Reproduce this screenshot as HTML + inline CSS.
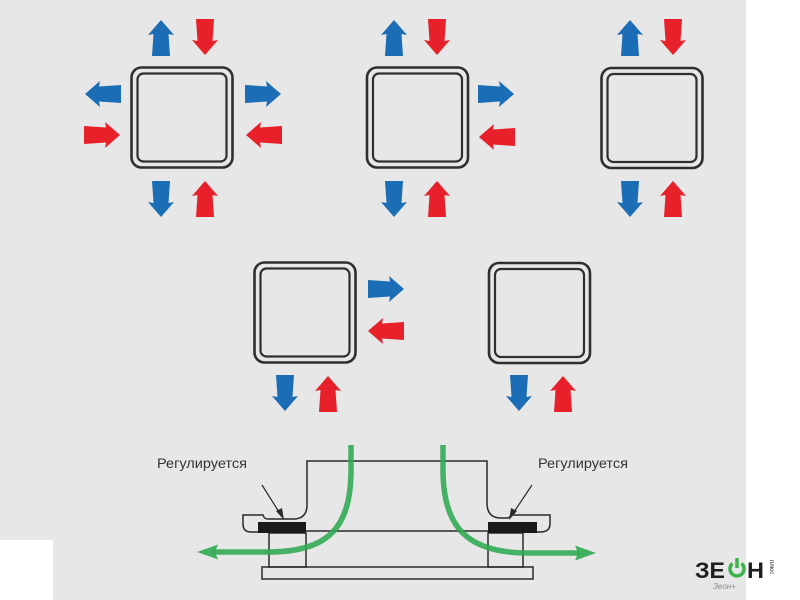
<!DOCTYPE html>
<html><head><meta charset="utf-8">
<style>
html,body{margin:0;padding:0;background:#fff;}
svg{display:block;}
</style></head>
<body>
<svg width="800" height="600" viewBox="0 0 800 600" xmlns="http://www.w3.org/2000/svg">
<defs>
  <path id="arr" d="M0,-9 L22,-7.5 L21,-13 L36,0 L21,13 L22,7.5 L0,9 Z"/>
  <g id="box">
    <rect x="0" y="0" width="101" height="100" rx="10" fill="none" stroke="#2f2f2f" stroke-width="2.6"/>
    <rect x="6" y="6" width="89" height="88" rx="6" fill="none" stroke="#2f2f2f" stroke-width="2.2"/>
  </g>
</defs>
<rect x="0" y="0" width="746" height="600" fill="#e7e7e7"/>
<rect x="0" y="540" width="53" height="60" fill="#fff"/>
<rect x="746" y="0" width="54" height="600" fill="#fff"/>

<!-- boxes -->
<use href="#box" x="131.5" y="67.5"/>
<use href="#box" x="367" y="67.5"/>
<use href="#box" x="601.5" y="68"/>
<use href="#box" x="254.5" y="262.5"/>
<use href="#box" x="489" y="263"/>

<g fill="#1b6db5">
  <use href="#arr" transform="translate(161,56) rotate(-90)"/>
  <use href="#arr" transform="translate(121,94) rotate(180)"/>
  <use href="#arr" transform="translate(245,94)"/>
  <use href="#arr" transform="translate(161,181) rotate(90)"/>
  <use href="#arr" transform="translate(394,56) rotate(-90)"/>
  <use href="#arr" transform="translate(478,94)"/>
  <use href="#arr" transform="translate(394,181) rotate(90)"/>
  <use href="#arr" transform="translate(630,56) rotate(-90)"/>
  <use href="#arr" transform="translate(630,181) rotate(90)"/>
  <use href="#arr" transform="translate(368,289)"/>
  <use href="#arr" transform="translate(285,375) rotate(90)"/>
  <use href="#arr" transform="translate(519,375) rotate(90)"/>
</g>
<g fill="#e7202a">
  <use href="#arr" transform="translate(205,19) rotate(90)"/>
  <use href="#arr" transform="translate(84,135)"/>
  <use href="#arr" transform="translate(282,135) rotate(180)"/>
  <use href="#arr" transform="translate(205,217) rotate(-90)"/>
  <use href="#arr" transform="translate(437,19) rotate(90)"/>
  <use href="#arr" transform="translate(515,137) rotate(180)"/>
  <use href="#arr" transform="translate(437,217) rotate(-90)"/>
  <use href="#arr" transform="translate(673,19) rotate(90)"/>
  <use href="#arr" transform="translate(673,217) rotate(-90)"/>
  <use href="#arr" transform="translate(404,331) rotate(180)"/>
  <use href="#arr" transform="translate(328,412) rotate(-90)"/>
  <use href="#arr" transform="translate(563,412) rotate(-90)"/>
</g>

<!-- bottom diagram -->
<g fill="none" stroke="#2a2a2a" stroke-width="1.5">
  <path d="M258,532 H251 Q243,532 243,524 V515 H263 Q264,519 268,519 H293 Q307,519 307,505 V461 H487 V503 Q487,518 501,518 H507 Q510,518 511,515 H550 V524 Q550,532 540,532 H537"/>
  <line x1="306" y1="531" x2="488" y2="531"/>
  <rect x="269" y="533" width="37" height="34"/>
  <rect x="488" y="533" width="35" height="34"/>
  <rect x="262" y="567" width="271" height="12"/>
</g>
<rect x="258" y="522" width="48" height="11" fill="#1a1a1a"/>
<rect x="488" y="522" width="49" height="11" fill="#1a1a1a"/>

<g stroke="#2a2a2a" stroke-width="1.2" fill="#2a2a2a">
  <line x1="262" y1="485" x2="279" y2="512"/>
  <polygon points="284,520 276,511 282,508" stroke="none"/>
  <line x1="532" y1="485" x2="514" y2="512"/>
  <polygon points="509,520 511,508 517,511" stroke="none"/>
</g>

<g fill="none" stroke="#2eaa52" stroke-width="5.5" stroke-opacity="0.88">
  <path d="M351,445 L351,470 C351,528 328,552 268,552 L214,552"/>
  <path d="M443,445 L443,470 C443,528 468,553 528,553 L579,553"/>
</g>
<g fill="#2eaa52" fill-opacity="0.9">
  <polygon points="197,552 218,544.5 215,552 218,559.5"/>
  <polygon points="596,553 575,545.5 578,553 575,560.5"/>
</g>

<g font-family="Liberation Sans, sans-serif" font-size="14" fill="#333">
  <text x="157" y="468" textLength="90" lengthAdjust="spacingAndGlyphs">Регулируется</text>
  <text x="538" y="468" textLength="90" lengthAdjust="spacingAndGlyphs">Регулируется</text>
</g>

<!-- logo -->
<g font-family="Liberation Sans, sans-serif" font-weight="bold" fill="#1e1e1e">
  <text x="695" y="578" font-size="22" textLength="30" lengthAdjust="spacingAndGlyphs">ЗЕ</text>
  <text x="747" y="578" font-size="22" textLength="17" lengthAdjust="spacingAndGlyphs">Н</text>
</g>
<path d="M732.5,563.5 A7,7 0 1 0 741.5,563.5" fill="none" stroke="#3cb44b" stroke-width="3.5"/>
<line x1="737" y1="558" x2="737" y2="568" stroke="#3cb44b" stroke-width="3.5"/>
<text x="0" y="0" font-family="Liberation Sans, sans-serif" font-size="6" fill="#333" transform="translate(770,560) rotate(90)">плюс</text>
<text x="713" y="589" font-family="Liberation Sans, sans-serif" font-size="8" font-style="italic" fill="#8a8a8a">Зеон+</text>
</svg>
</body></html>
